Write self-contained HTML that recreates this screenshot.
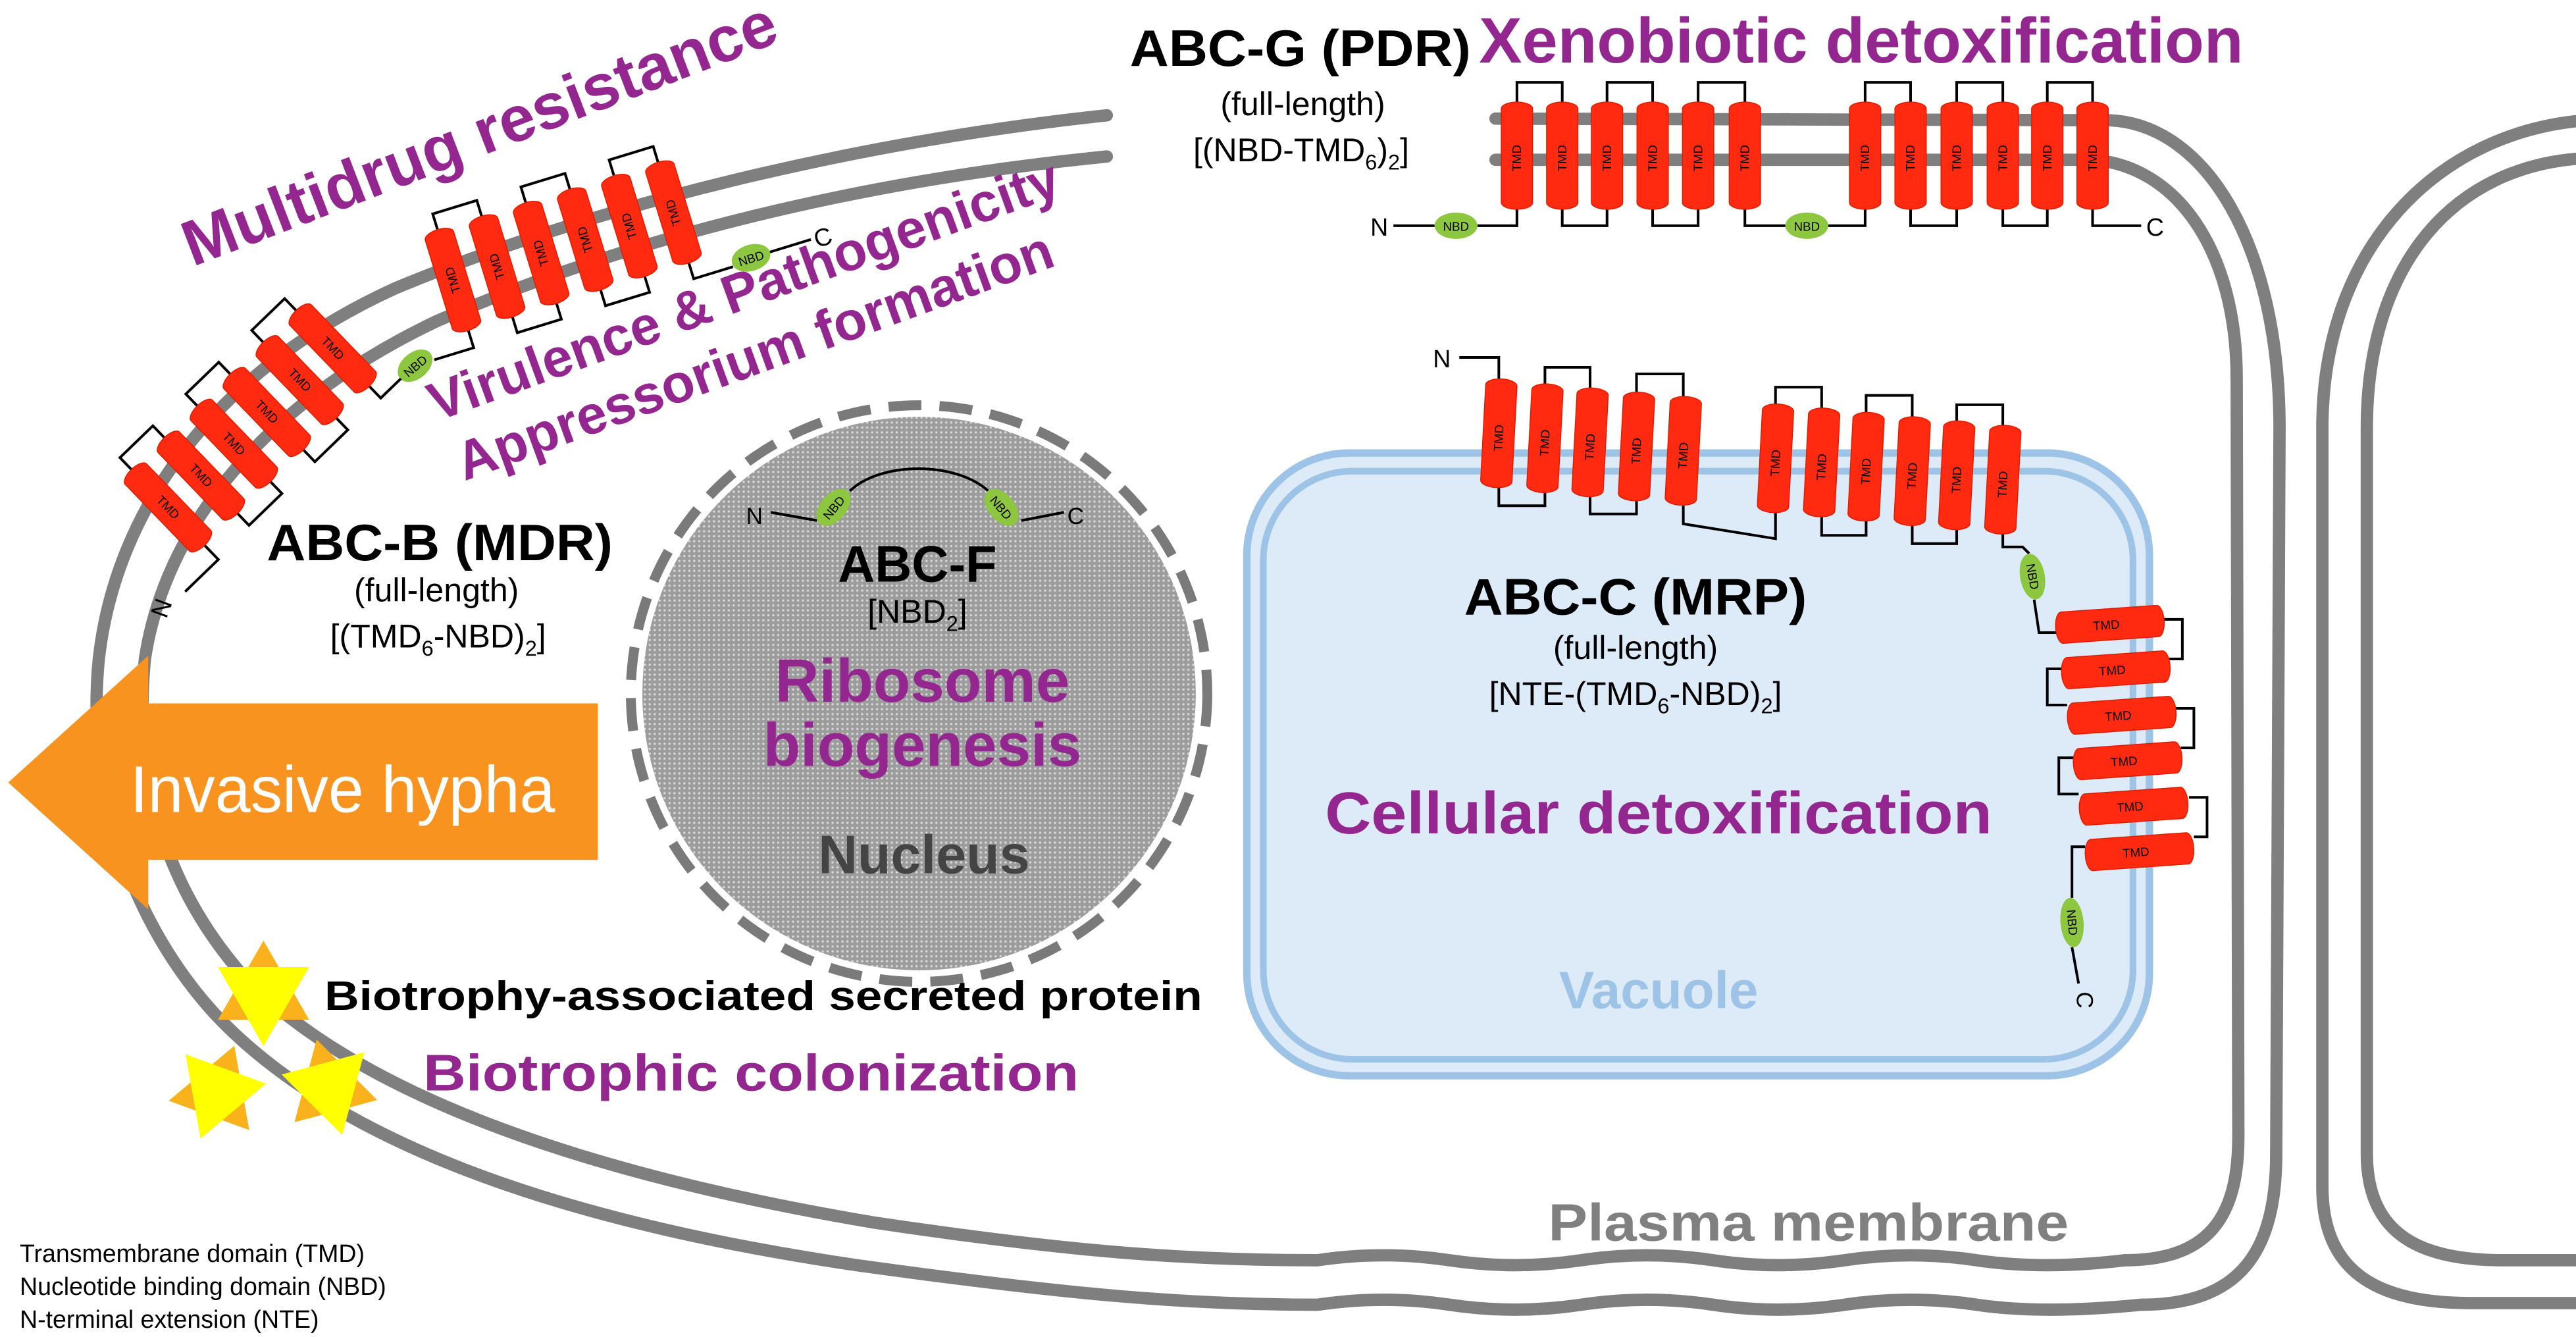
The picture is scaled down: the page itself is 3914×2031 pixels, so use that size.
<!DOCTYPE html>
<html><head><meta charset="utf-8"><style>
html,body{margin:0;padding:0;background:#fff}
svg{display:block}
text{font-family:"Liberation Sans",Arial,sans-serif}
.b{font-weight:bold}
.p{fill:#93278f;font-weight:bold}
.t{font-size:7.5px;fill:#000;text-anchor:middle}
.tm{fill:#ff2a10;stroke:#e01c00;stroke-width:0.6}
.nb{fill:#8dc63f}
.ln{fill:none;stroke:#000;stroke-width:1.6}
.mem{fill:none;stroke:#7f7f7f;stroke-width:7.5;stroke-linecap:round}
</style></head><body>
<svg width="3914" height="2031" viewBox="0 0 1564 811.6" preserveAspectRatio="none" xmlns="http://www.w3.org/2000/svg">
<defs>
<pattern id="dots" width="3" height="3" patternUnits="userSpaceOnUse">
<rect width="3" height="3" fill="#9c9c9c"/><circle cx="1.5" cy="1.5" r="0.7" fill="#d8d8d8"/>
</pattern>
</defs>
<rect width="1564" height="811.6" fill="#fff"/>

<!-- membranes -->
<path class="mem" d="M672 70 C520 86,360 125,240 175 C130 225,70 310,60 400 C52 480,80 560,130 615 C200 690,330 740,520 768 C650 786,720 792,800 792 Q840 786 880 792 T960 792 T1040 792 T1120 792 T1200 792 T1300 792 C1360 792,1382 760,1382 700 L1384 260 C1384 150,1340 75,1280 73 L908 72"/>
<path class="mem" d="M672 95 C520 110,380 145,265 195 C160 245,100 320,88 400 C80 480,105 545,150 595 C215 660,340 710,530 742 C650 760,720 765,800 765 Q840 759 880 765 T960 765 T1040 765 T1120 765 T1200 765 T1290 765 C1340 765,1359 740,1359 690 L1358 230 C1358 150,1320 100,1270 97 L908 97"/>
<path class="mem" d="M1570 73 C1480 80,1410 150,1410 260 L1410 720 C1410 770,1440 791,1500 791 L1570 791"/>
<path class="mem" d="M1570 96 C1490 100,1437 160,1437 260 L1437 700 C1437 750,1470 765,1520 765 L1570 765"/>

<!-- vacuole -->
<rect x="757" y="275" width="548" height="378" rx="62" fill="#ddeaf7" stroke="#9dc3e6" stroke-width="4.5"/>
<rect x="767" y="286" width="528" height="357" rx="54" fill="#ddeaf7" stroke="#9dc3e6" stroke-width="4"/>

<!-- nucleus -->
<circle cx="558" cy="421" r="168" fill="url(#dots)"/>
<circle cx="558" cy="421" r="175" fill="none" stroke="#7a7a7a" stroke-width="6" stroke-dasharray="20 11"/>

<!-- invasive hypha arrow -->
<polygon points="90,398 90,427 363,427 363,522 90,522 90,552 5,475" fill="#f7931e"/>
<text x="208" y="493" font-size="40" fill="#fff" text-anchor="middle" textLength="258" lengthAdjust="spacingAndGlyphs">Invasive hypha</text>

<!-- ABC-G -->
<g class="ln">
<path d="M921 62V50H948.5V62M975.7 62V50H1003.4V62M1031 62V50H1059.4V62M1132.4 62V50H1160V62M1188 62V50H1216V62M1243 62V50H1270.5V62"/>
<path d="M948.5 127V137H975.7V127M1003.4 127V137H1031V127M1160 127V137H1188V127M1216 127V137H1243V127"/>
<path d="M846 137H871M897 137H921V127M1059.4 127V137H1084M1110 137H1132.4V127M1270.5 127V137H1300"/>
</g>
<g>
<rect class="tm" x="911.5" y="62" width="19" height="65" rx="9.5" ry="4"/>
<rect class="tm" x="939" y="62" width="19" height="65" rx="9.5" ry="4"/>
<rect class="tm" x="966.2" y="62" width="19" height="65" rx="9.5" ry="4"/>
<rect class="tm" x="993.9" y="62" width="19" height="65" rx="9.5" ry="4"/>
<rect class="tm" x="1021.5" y="62" width="19" height="65" rx="9.5" ry="4"/>
<rect class="tm" x="1049.9" y="62" width="19" height="65" rx="9.5" ry="4"/>
<rect class="tm" x="1122.9" y="62" width="19" height="65" rx="9.5" ry="4"/>
<rect class="tm" x="1150.5" y="62" width="19" height="65" rx="9.5" ry="4"/>
<rect class="tm" x="1178.5" y="62" width="19" height="65" rx="9.5" ry="4"/>
<rect class="tm" x="1206.5" y="62" width="19" height="65" rx="9.5" ry="4"/>
<rect class="tm" x="1233.5" y="62" width="19" height="65" rx="9.5" ry="4"/>
<rect class="tm" x="1261" y="62" width="19" height="65" rx="9.5" ry="4"/>
</g>
<g class="t">
<text transform="translate(923.5,96) rotate(-90)">TMD</text>
<text transform="translate(951,96) rotate(-90)">TMD</text>
<text transform="translate(978.2,96) rotate(-90)">TMD</text>
<text transform="translate(1005.9,96) rotate(-90)">TMD</text>
<text transform="translate(1033.5,96) rotate(-90)">TMD</text>
<text transform="translate(1061.9,96) rotate(-90)">TMD</text>
<text transform="translate(1134.9,96) rotate(-90)">TMD</text>
<text transform="translate(1162.5,96) rotate(-90)">TMD</text>
<text transform="translate(1190.5,96) rotate(-90)">TMD</text>
<text transform="translate(1218.5,96) rotate(-90)">TMD</text>
<text transform="translate(1245.5,96) rotate(-90)">TMD</text>
<text transform="translate(1273,96) rotate(-90)">TMD</text>
</g>
<ellipse class="nb" cx="884" cy="137" rx="13" ry="8"/><text x="884" y="140" class="t">NBD</text>
<ellipse class="nb" cx="1097" cy="137" rx="13" ry="8"/><text x="1097" y="140" class="t">NBD</text>
<text x="832" y="143" font-size="15">N</text>
<text x="1303" y="143" font-size="15">C</text>

<!-- ABC-C top -->
<g class="ln">
<path d="M886 217H910V230M938 233V223H965.4V235.5M993.6 238V227H1022V240.5"/>
<path d="M910 296V307H938V299M965.4 301.6V312H993.6V304M1022 307V318L1078 327V311"/>
<path d="M1078 245.7V235H1106V248M1133 251V240H1161V253.5M1188 256V245.7H1216V258.7"/>
<path d="M1106 313.7V325H1133V316.3M1161 319V330H1188V321.5M1216 323.7V332H1228L1232 336"/>
<path d="M1235 364L1238 384H1250"/>
</g>
<g>
<rect class="tm" transform="translate(910,263) rotate(3)" x="-9.5" y="-33" width="19" height="66" rx="9.5" ry="4"/>
<rect class="tm" transform="translate(938,266) rotate(3)" x="-9.5" y="-33" width="19" height="66" rx="9.5" ry="4"/>
<rect class="tm" transform="translate(965.4,268.5) rotate(3)" x="-9.5" y="-33" width="19" height="66" rx="9.5" ry="4"/>
<rect class="tm" transform="translate(993.6,271) rotate(3)" x="-9.5" y="-33" width="19" height="66" rx="9.5" ry="4"/>
<rect class="tm" transform="translate(1022,273.7) rotate(3)" x="-9.5" y="-33" width="19" height="66" rx="9.5" ry="4"/>
<rect class="tm" transform="translate(1078,278.2) rotate(3)" x="-9.5" y="-33" width="19" height="66" rx="9.5" ry="4"/>
<rect class="tm" transform="translate(1106,280.7) rotate(3)" x="-9.5" y="-33" width="19" height="66" rx="9.5" ry="4"/>
<rect class="tm" transform="translate(1133,283.3) rotate(3)" x="-9.5" y="-33" width="19" height="66" rx="9.5" ry="4"/>
<rect class="tm" transform="translate(1161,286) rotate(3)" x="-9.5" y="-33" width="19" height="66" rx="9.5" ry="4"/>
<rect class="tm" transform="translate(1188,288.5) rotate(3)" x="-9.5" y="-33" width="19" height="66" rx="9.5" ry="4"/>
<rect class="tm" transform="translate(1216,291.2) rotate(3)" x="-9.5" y="-33" width="19" height="66" rx="9.5" ry="4"/>
</g>
<g class="t">
<text transform="translate(912.5,266) rotate(-87)">TMD</text>
<text transform="translate(940.5,269) rotate(-87)">TMD</text>
<text transform="translate(967.9,271.5) rotate(-87)">TMD</text>
<text transform="translate(996.1,274) rotate(-87)">TMD</text>
<text transform="translate(1024.5,276.7) rotate(-87)">TMD</text>
<text transform="translate(1080.5,281.2) rotate(-87)">TMD</text>
<text transform="translate(1108.5,283.7) rotate(-87)">TMD</text>
<text transform="translate(1135.5,286.3) rotate(-87)">TMD</text>
<text transform="translate(1163.5,289) rotate(-87)">TMD</text>
<text transform="translate(1190.5,291.5) rotate(-87)">TMD</text>
<text transform="translate(1218.5,294.2) rotate(-87)">TMD</text>
</g>
<text x="870" y="223" font-size="15">N</text>
<g transform="translate(1234,350) rotate(-10)"><ellipse class="nb" rx="7.5" ry="14"/><text class="t" transform="rotate(90)" y="2.5">NBD</text></g>

<!-- ABC-C right group -->
<g class="ln">
<path d="M1250 384H1248"/>
<path d="M1239 384H1249"/>
<path d="M1313 376H1325V400H1317M1252 406H1243V428H1255M1321 430H1332V454H1324M1259 460H1250V482H1262M1329 484H1340V508H1332M1266 514H1258V545"/>
<path d="M1258 575L1262 597"/>
</g>
<g>
<rect class="tm" transform="translate(1281,379) rotate(-4)" x="-33" y="-9.5" width="66" height="19" rx="4" ry="9.5"/>
<rect class="tm" transform="translate(1284.6,406.6) rotate(-4)" x="-33" y="-9.5" width="66" height="19" rx="4" ry="9.5"/>
<rect class="tm" transform="translate(1288.2,434.2) rotate(-4)" x="-33" y="-9.5" width="66" height="19" rx="4" ry="9.5"/>
<rect class="tm" transform="translate(1291.8,461.8) rotate(-4)" x="-33" y="-9.5" width="66" height="19" rx="4" ry="9.5"/>
<rect class="tm" transform="translate(1295.4,489.4) rotate(-4)" x="-33" y="-9.5" width="66" height="19" rx="4" ry="9.5"/>
<rect class="tm" transform="translate(1299,517) rotate(-4)" x="-33" y="-9.5" width="66" height="19" rx="4" ry="9.5"/>
</g>
<g class="t">
<text transform="translate(1279,382) rotate(-4)">TMD</text>
<text transform="translate(1282.6,409.6) rotate(-4)">TMD</text>
<text transform="translate(1286.2,437.2) rotate(-4)">TMD</text>
<text transform="translate(1289.8,464.8) rotate(-4)">TMD</text>
<text transform="translate(1293.4,492.4) rotate(-4)">TMD</text>
<text transform="translate(1297,520) rotate(-4)">TMD</text>
</g>
<g transform="translate(1258,560) rotate(-5)"><ellipse class="nb" rx="7" ry="15"/><text class="t" transform="rotate(90)" y="2.5">NBD</text></g>
<text transform="translate(1261,602) rotate(90)" font-size="14">C</text>

<!-- ABC-B group A -->
<g transform="translate(275,170) rotate(-17)">
<path class="ln" d="M0 -32V-42H28V-32M56 -32V-42H84V-32M112 -32V-42H140V-32M28 32V42H56V32M84 32V42H112V32M140 32V42H165M189 40H215M0 32V43H-25"/>
<rect class="tm" x="-9" y="-32" width="18" height="64" rx="9" ry="4"/>
<rect class="tm" x="19" y="-32" width="18" height="64" rx="9" ry="4"/>
<rect class="tm" x="47" y="-32" width="18" height="64" rx="9" ry="4"/>
<rect class="tm" x="75" y="-32" width="18" height="64" rx="9" ry="4"/>
<rect class="tm" x="103" y="-32" width="18" height="64" rx="9" ry="4"/>
<rect class="tm" x="131" y="-32" width="18" height="64" rx="9" ry="4"/>
<g class="t">
<text transform="translate(2.5,0) rotate(-90)">TMD</text>
<text transform="translate(30.5,0) rotate(-90)">TMD</text>
<text transform="translate(58.5,0) rotate(-90)">TMD</text>
<text transform="translate(86.5,0) rotate(-90)">TMD</text>
<text transform="translate(114.5,0) rotate(-90)">TMD</text>
<text transform="translate(142.5,0) rotate(-90)">TMD</text>
</g>
<ellipse class="nb" cx="177" cy="40" rx="12" ry="8"/><text class="t" x="177" y="43">NBD</text>
<text x="217" y="46" font-size="15">C</text>
</g>
<g transform="translate(252,222) rotate(-40)"><ellipse class="nb" rx="12" ry="8"/><text class="t" y="3">NBD</text></g>

<!-- ABC-B group B -->
<g transform="translate(102,308) rotate(-44)">
<path class="ln" d="M139 -32V-42H111.2V-32M83.4 -32V-42H55.6V-32M27.8 -32V-42H0V-32M111.2 32V42H83.4V32M55.6 32V42H27.8V32M139 32V42H156M0 32V44H-28"/>
<rect class="tm" x="-9" y="-32" width="18" height="64" rx="9" ry="4"/>
<rect class="tm" x="18.8" y="-32" width="18" height="64" rx="9" ry="4"/>
<rect class="tm" x="46.6" y="-32" width="18" height="64" rx="9" ry="4"/>
<rect class="tm" x="74.4" y="-32" width="18" height="64" rx="9" ry="4"/>
<rect class="tm" x="102.2" y="-32" width="18" height="64" rx="9" ry="4"/>
<rect class="tm" x="130" y="-32" width="18" height="64" rx="9" ry="4"/>
<g class="t">
<text transform="translate(-2.5,0) rotate(90)">TMD</text>
<text transform="translate(25.3,0) rotate(90)">TMD</text>
<text transform="translate(53.1,0) rotate(90)">TMD</text>
<text transform="translate(80.9,0) rotate(90)">TMD</text>
<text transform="translate(108.7,0) rotate(90)">TMD</text>
<text transform="translate(136.5,0) rotate(90)">TMD</text>
</g>
</g>
<text transform="translate(101,376) rotate(-70)" font-size="15">N</text>

<!-- ABC-F -->
<path class="ln" d="M468 311L496 316M516 298C535 280,580 280,600 298M620 316L646 311"/>
<g transform="translate(506,308) rotate(-50)"><ellipse class="nb" rx="13" ry="8"/><text class="t" y="3">NBD</text></g>
<g transform="translate(608,308) rotate(50)"><ellipse class="nb" rx="13" ry="8"/><text class="t" y="3">NBD</text></g>
<text x="453" y="318" font-size="14">N</text>
<text x="648" y="318" font-size="14">C</text>

<!-- stars -->
<g>
<polygon points="160,571 187.7,619 132.3,619" fill="#f9b21b"/>
<polygon points="160,635 132.3,587 187.7,587" fill="#ffff00"/>
<g transform="translate(132,663) rotate(20)"><polygon points="0,-30 26,15 -26,15" fill="#f9b21b"/><polygon points="0,30 -26,-15 26,-15" fill="#ffff00"/></g>
<g transform="translate(200,660) rotate(-15)"><polygon points="0,-30 26,15 -26,15" fill="#f9b21b"/><polygon points="0,30 -26,-15 26,-15" fill="#ffff00"/></g>
</g>

<!-- purple rotated labels -->
<text class="p" transform="translate(117,162) rotate(-21)" font-size="39" textLength="383" lengthAdjust="spacingAndGlyphs">Multidrug resistance</text>
<text class="p" transform="translate(265,256) rotate(-20)" font-size="33" textLength="405" lengthAdjust="spacingAndGlyphs">Virulence &amp; Pathogenicity</text>
<text class="p" transform="translate(282,292) rotate(-20)" font-size="33" textLength="383" lengthAdjust="spacingAndGlyphs">Appressorium formation</text>

<!-- ABC-B text -->
<text class="b" x="162" y="340" font-size="31" textLength="210" lengthAdjust="spacingAndGlyphs">ABC-B (MDR)</text>
<text x="265" y="365" font-size="20" text-anchor="middle">(full-length)</text>
<text x="266" y="393" font-size="20" text-anchor="middle">[(TMD<tspan font-size="13" dy="5">6</tspan><tspan dy="-5">-NBD)</tspan><tspan font-size="13" dy="5">2</tspan><tspan dy="-5">]</tspan></text>

<!-- ABC-G text -->
<text class="b" x="686" y="40" font-size="31" textLength="207" lengthAdjust="spacingAndGlyphs">ABC-G (PDR)</text>
<text class="p" x="898" y="38" font-size="39" textLength="464" lengthAdjust="spacingAndGlyphs">Xenobiotic detoxification</text>
<text x="791" y="70" font-size="20" text-anchor="middle">(full-length)</text>
<text x="790" y="98" font-size="20" text-anchor="middle">[(NBD-TMD<tspan font-size="13" dy="5">6</tspan><tspan dy="-5">)</tspan><tspan font-size="13" dy="5">2</tspan><tspan dy="-5">]</tspan></text>

<!-- ABC-F / nucleus text -->
<text class="b" x="557" y="353" font-size="31" text-anchor="middle">ABC-F</text>
<text x="557" y="378" font-size="20" text-anchor="middle">[NBD<tspan font-size="13" dy="5">2</tspan><tspan dy="-5">]</tspan></text>
<text class="p" x="560" y="426" font-size="37" text-anchor="middle">Ribosome</text>
<text class="p" x="560" y="465" font-size="37" text-anchor="middle">biogenesis</text>
<text class="b" x="561" y="530" font-size="33" fill="#444" text-anchor="middle">Nucleus</text>

<!-- ABC-C text -->
<text class="b" x="993" y="373" font-size="31" text-anchor="middle" textLength="208" lengthAdjust="spacingAndGlyphs">ABC-C (MRP)</text>
<text x="993" y="400" font-size="20" text-anchor="middle">(full-length)</text>
<text x="993" y="428" font-size="20" text-anchor="middle">[NTE-(TMD<tspan font-size="13" dy="5">6</tspan><tspan dy="-5">-NBD)</tspan><tspan font-size="13" dy="5">2</tspan><tspan dy="-5">]</tspan></text>
<text class="p" x="1007" y="506" font-size="36" text-anchor="middle" textLength="405" lengthAdjust="spacingAndGlyphs">Cellular detoxification</text>
<text class="b" x="1007" y="612" font-size="32" fill="#9dc3e6" text-anchor="middle">Vacuole</text>

<text class="b" x="1098" y="753" font-size="32" fill="#808080" text-anchor="middle" textLength="316" lengthAdjust="spacingAndGlyphs">Plasma membrane</text>

<text class="b" x="197" y="613" font-size="25" textLength="533" lengthAdjust="spacingAndGlyphs">Biotrophy-associated secreted protein</text>
<text class="p" x="257" y="662" font-size="31" textLength="398" lengthAdjust="spacingAndGlyphs">Biotrophic colonization</text>

<text x="12" y="766" font-size="15">Transmembrane domain (TMD)</text>
<text x="12" y="786" font-size="15">Nucleotide binding domain (NBD)</text>
<text x="12" y="806" font-size="15">N-terminal extension (NTE)</text>
</svg>
</body></html>
